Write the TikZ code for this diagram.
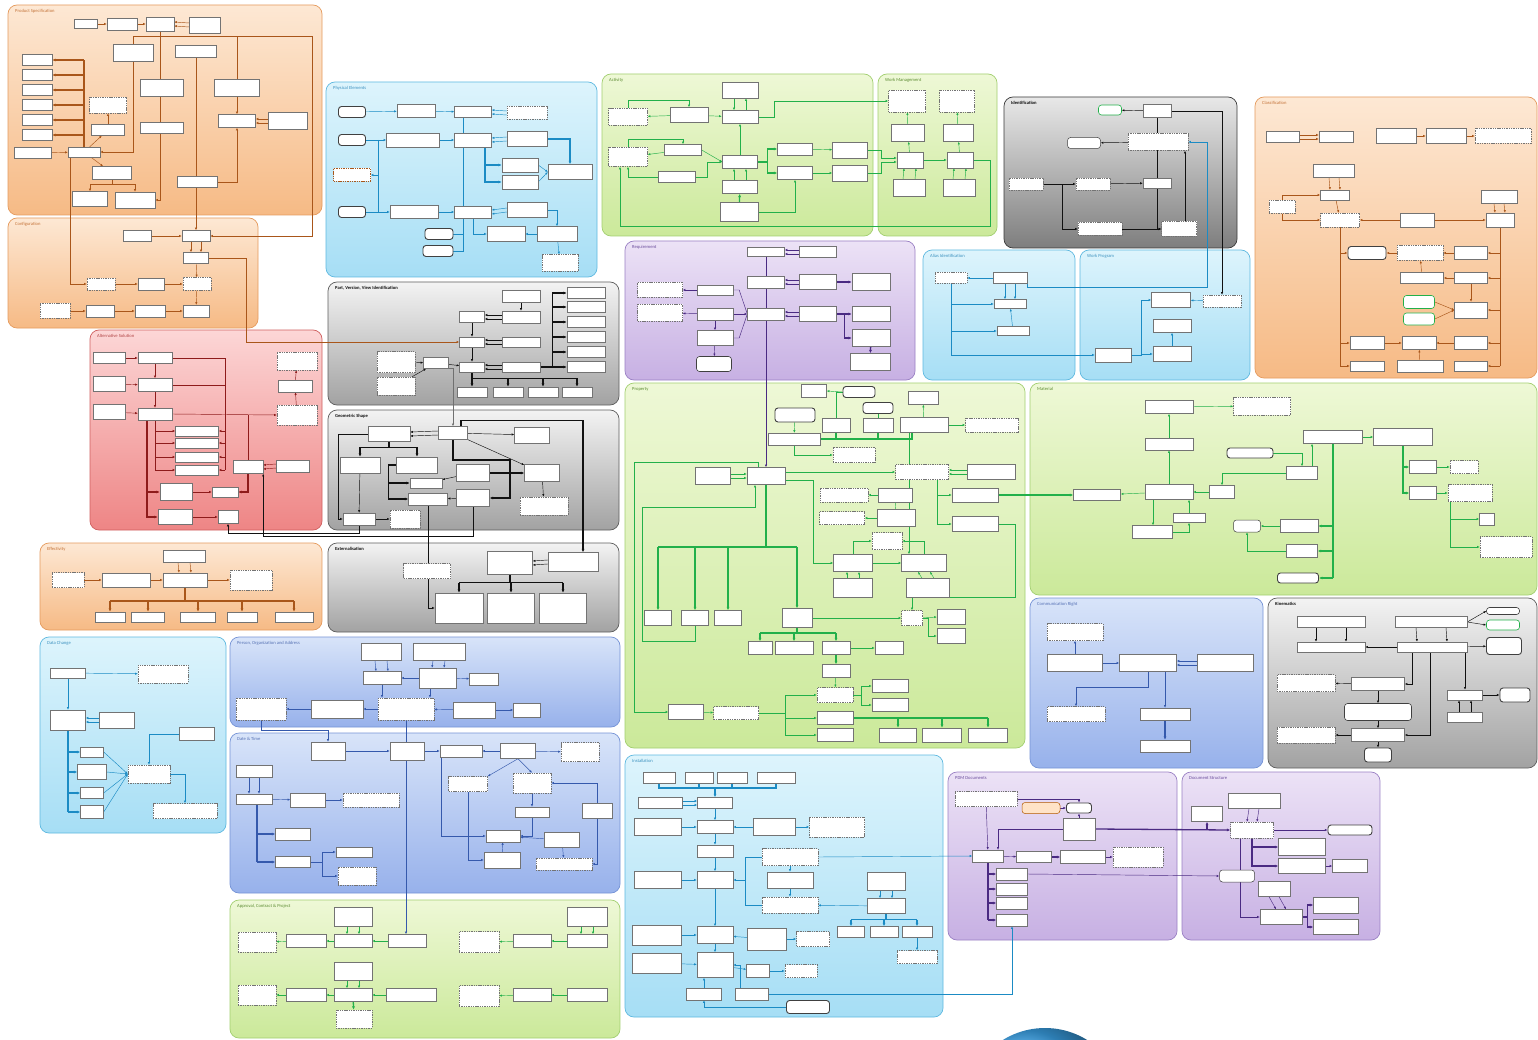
\documentclass[tikz,border=0pt]{standalone}
\usepackage{fontspec}
\setsansfont{Carlito}
\usepackage{tikz}
\usetikzlibrary{arrows.meta,calc,positioning}
\definecolor{orA}{HTML}{FDE8D4}
\definecolor{orB}{HTML}{F6BA85}
\definecolor{orL}{HTML}{E59B5E}
\definecolor{orC}{HTML}{A9561A}
\definecolor{orT}{HTML}{C4743A}
\definecolor{cyA}{HTML}{DDF4FC}
\definecolor{cyB}{HTML}{A6DEF5}
\definecolor{cyL}{HTML}{5FB9E0}
\definecolor{cyC}{HTML}{1B8BC4}
\definecolor{cyT}{HTML}{3F93C0}
\definecolor{grA}{HTML}{EEF8D6}
\definecolor{grB}{HTML}{CBE99A}
\definecolor{grL}{HTML}{A2CF70}
\definecolor{grC}{HTML}{22B04A}
\definecolor{grT}{HTML}{5C8C32}
\definecolor{gyA}{HTML}{F3F3F3}
\definecolor{gyB}{HTML}{A2A2A2}
\definecolor{gyL}{HTML}{5E5E5E}
\definecolor{gyC}{HTML}{111111}
\definecolor{gyT}{HTML}{111111}
\definecolor{gkA}{HTML}{E8E8E8}
\definecolor{gkB}{HTML}{7E7E7E}
\definecolor{gkL}{HTML}{3A3A3A}
\definecolor{gkT}{HTML}{111111}
\definecolor{puA}{HTML}{ECE2F6}
\definecolor{puB}{HTML}{C7B0E3}
\definecolor{puL}{HTML}{9A80C4}
\definecolor{puC}{HTML}{4A2A82}
\definecolor{puT}{HTML}{6A4C9C}
\definecolor{pkA}{HTML}{FCD6D6}
\definecolor{pkB}{HTML}{EE8585}
\definecolor{pkL}{HTML}{D06060}
\definecolor{pkC}{HTML}{8E1B1B}
\definecolor{pkT}{HTML}{B04545}
\definecolor{blA}{HTML}{D8E4F9}
\definecolor{blB}{HTML}{97B1EB}
\definecolor{blL}{HTML}{7593D6}
\definecolor{blC}{HTML}{3559AC}
\definecolor{blT}{HTML}{5873B5}
\pgfdeclarelayer{back}
\pgfdeclarelayer{mid}
\pgfsetlayers{back,mid,main}
\tikzset{
  ent/.style={draw=black!55, line width=0.4pt, fill=white, inner sep=0pt},
  sel/.style={ent, dash pattern=on 1.4pt off 0.9pt},
  pill/.style={ent, rounded corners=3pt, line width=0.9pt, draw=black!75},
  bx/.style 2 args={minimum width=#1pt, minimum height=#2pt},
  cn/.style={draw=#1, line width=0.45pt, -{Latex[length=2.6pt,width=2.2pt]}},
  ln/.style={draw=#1, line width=0.45pt},
  bus/.style={draw=#1, line width=1.3pt},
  bt/.style={bus=#1, -{Latex[length=3.4pt,width=3pt]}},
  ptitle/.style={font=\sffamily\fontsize{4.6}{5}\selectfont, anchor=north west, inner sep=1pt},
  panelbox/.style={rounded corners=9pt, line width=0.7pt}
}
\newcommand{\uofpanel}[7]{%
  \begin{pgfonlayer}{back}
  \path[panelbox, top color=#6A, bottom color=#6B, draw=#6L] (#2,#3) rectangle (#4,#5);
  \node[ptitle, text=#6T] (#1) at (#2+6,#3+3) {#7};
  \end{pgfonlayer}
}

\begin{document}
\begin{tikzpicture}[x=1pt,y=-1pt]
\useasboundingbox (0,0) rectangle (1538,1040);
\begin{pgfonlayer}{back}
\fill[white] (0,0) rectangle (1538,1040);
\end{pgfonlayer}

% product specification
\uofpanel{tps}{8}{5}{322}{215}{or}{Product Specification}
\node[ent, bx={23}{9}] (ps1) at (86,24) {};
\node[ent, bx={30}{12}] (ps2) at (122,24) {};
\node[ent, bx={28}{14}] (ps3) at (160,24) {};
\node[ent, bx={31}{16}] (ps4) at (205,25) {};
\node[ent, bx={40}{17}] (ps5) at (133,53) {};
\node[ent, bx={41}{12}] (ps6) at (196,51) {};
\foreach \i/\y in {7/60,8/75,9/90,10/105,11/120,12/135}
  \node[ent, bx={30}{11}] (ps\i) at (37,\y) {};
\node[sel, bx={37}{16}] (ps13) at (108,105) {};
\node[ent, bx={33}{11}] (ps14) at (108,130) {};
\node[ent, bx={37}{11}] (ps15) at (33,153) {};
\node[ent, bx={32}{10}] (ps16) at (84,152) {};
\node[ent, bx={43}{17}] (ps17) at (162,88) {};
\node[ent, bx={43}{11}] (ps18) at (162,128) {};
\node[ent, bx={45}{17}] (ps19) at (237,88) {};
\node[ent, bx={37}{13}] (ps20) at (237,121) {};
\node[ent, bx={39}{17}] (ps21) at (288,121) {};
\node[ent, bx={39}{13}] (ps22) at (112,173) {};
\node[ent, bx={35}{15}] (ps23) at (90,199) {};
\node[ent, bx={40}{16}] (ps24) at (135,200) {};
\node[ent, bx={40}{11}] (ps25) at (197,182) {};

% configuration
\uofpanel{tcf}{8}{218}{258}{328}{or}{Configuration}
\node[ent, bx={28}{11}] (cf1) at (137,236) {};
\node[ent, bx={28}{11}] (cf2) at (196,236) {};
\node[ent, bx={25}{11}] (cf3) at (196,258) {};
\node[sel, bx={28}{13}] (cf4) at (197,284) {};
\node[ent, bx={26}{12}] (cf5) at (196,311) {};
\node[sel, bx={28}{12}] (cf6) at (101,284) {};
\node[ent, bx={26}{12}] (cf7) at (151,284) {};
\node[sel, bx={30}{15}] (cf8) at (55,311) {};
\node[ent, bx={28}{12}] (cf9) at (100,311) {};
\node[ent, bx={30}{12}] (cf10) at (150,311) {};

\begin{pgfonlayer}{mid}
\coordinate (pstop) at (312,36);
\draw[cn=orC] (ps1) -- (ps2);
\draw[cn=orC] (ps2) -- (ps3);
\draw[cn=orC] ([yshift=2pt]ps4.west) -- ([yshift=2pt]ps3.east);
\draw[cn=orC] ([yshift=-2pt]ps4.west) -- ([yshift=-2pt]ps3.east);
\draw[bus=orC] (ps16.north) -- (ps16.north |- ps7.east);
\foreach \i in {7,...,12}
  \draw[bt=orC] (ps16.north |- ps\i.east) -- (ps\i.east);
\draw[cn=orC] (ps15) -- (ps16);
\draw[cn=orC] (ps16) -- (ps14);
\draw[cn=orC] (ps14) -- (ps13);
\draw[cn=orC] (ps5.south) |- (ps16.east);
\draw[cn=orC] (ps16) -- (ps22);
\draw[cn=orC] (ps22.south) -- ++(0,5) -| (ps23.north);
\draw[cn=orC] (ps22.south) -- ++(0,5) -| (ps24.north);
\draw[cn=orC] (ps3.south) |- (ps24.east);
\draw[cn=orC] (ps5.north) |- (pstop) |- (cf2.east);
\draw[ln=orC] (ps19.north) -- (ps19.north |- pstop);
\draw[cn=orC] (ps6) -- (cf2);
\draw[cn=orC] (ps19) -- (ps20);
\draw[cn=orC] (ps25.east) -| (ps20.south);
\draw[cn=orC] ([yshift=2pt]ps21.west) -- ([yshift=2pt]ps20.east);
\draw[cn=orC] ([yshift=-2pt]ps21.west) -- ([yshift=-2pt]ps20.east);
\draw[cn=orC] ([xshift=-14pt]ps16.south) |- (cf6.west);
\draw[cn=orC] (cf1) -- (cf2);
\draw[cn=orC] ([xshift=-5pt]cf2.south) -- ([xshift=-5pt]cf3.north);
\draw[cn=orC] ([xshift=5pt]cf2.south) -- ([xshift=5pt]cf3.north);
\draw[cn=orC] (cf3) -- (cf4);
\draw[cn=orC] (cf4) -- (cf5);
\draw[cn=orC] (cf6) -- (cf7);
\draw[cn=orC] (cf7) -- (cf4);
\draw[cn=orC] (cf8) -- (cf9);
\draw[cn=orC] (cf9) -- (cf10);
\draw[cn=orC] (cf10) -- (cf5);
\end{pgfonlayer}

% physical elements
\uofpanel{tph}{326}{82}{597}{277}{cy}{Physical Elements}
\node[pill, bx={27}{11}] (ph1) at (352,112) {};
\node[pill, bx={27}{11}] (ph2) at (352,140) {};
\node[sel, draw=orC, bx={37}{13}] (ph3) at (352,175) {};
\node[pill, bx={27}{11}] (ph4) at (352,212) {};
\node[pill, bx={28}{11}] (ph5) at (439,234) {};
\node[pill, bx={30}{11}] (ph6) at (438,251) {};
\node[ent, bx={38}{13}] (ph7) at (416,111) {};
\node[ent, bx={53}{14}] (ph8) at (413,140) {};
\node[ent, bx={48}{13}] (ph9) at (414,212) {};
\node[ent, bx={37}{11}] (ph10) at (473,112) {};
\node[ent, bx={37}{14}] (ph11) at (473,140) {};
\node[ent, bx={37}{12}] (ph12) at (473,212) {};
\node[sel, bx={40}{13}] (ph13) at (527,113) {};
\node[ent, bx={40}{15}] (ph14) at (527,139) {};
\node[ent, bx={36}{14}] (ph15) at (520,165) {};
\node[ent, bx={36}{14}] (ph16) at (520,182) {};
\node[ent, bx={44}{15}] (ph17) at (570,172) {};
\node[ent, bx={40}{15}] (ph18) at (527,210) {};
\node[ent, bx={38}{15}] (ph19) at (506,234) {};
\node[ent, bx={40}{15}] (ph20) at (557,234) {};
\node[sel, bx={36}{17}] (ph21) at (560,263) {};

\begin{pgfonlayer}{mid}
\coordinate (pha) at (378,140);
\coordinate (phb) at (378,212);
\draw[cn=cyC] (ph1) -- (ph7);
\draw[cn=cyC] (ph7) -- (ph10);
\draw[cn=cyC] ([yshift=2pt]ph13.west) -- ([yshift=2pt]ph10.east);
\draw[cn=cyC] ([yshift=-2pt]ph13.west) -- ([yshift=-2pt]ph10.east);
\draw[cn=cyC] (ph2) -- (ph8);
\draw[cn=cyC] (ph8) -- (ph11);
\draw[cn=cyC] ([yshift=2pt]ph14.west) -- ([yshift=2pt]ph11.east);
\draw[cn=cyC] ([yshift=-2pt]ph14.west) -- ([yshift=-2pt]ph11.east);
\draw[cn=cyC] (ph4) -- (ph9);
\draw[cn=cyC] (ph9) -- (ph12);
\draw[cn=cyC] ([yshift=2pt]ph18.west) -- ([yshift=2pt]ph12.east);
\draw[cn=cyC] ([yshift=-2pt]ph18.west) -- ([yshift=-2pt]ph12.east);
\draw[ln=cyC] (pha) -- (phb);
\draw[cn=cyC] (pha |- ph3.east) -- (ph3.east);
\draw[ln=cyC] ([xshift=-10pt]ph10.south) -- ([xshift=-10pt]ph12.north);
\draw[ln=cyC] (ph5.east) -| ([xshift=-10pt]ph12.south);
\draw[ln=cyC] (ph6.east) -| ([xshift=-10pt]ph12.south);
\draw[bt=cyC] ([xshift=12pt]ph11.south) |- (ph15.west);
\draw[bt=cyC] ([xshift=12pt]ph11.south) |- (ph16.west);
\draw[bt=cyC] (ph14.east) -| (ph17.north);
\draw[cn=cyC] (ph15.east) -- (ph17.west);
\draw[cn=cyC] (ph16.east) -- (ph17.west);
\draw[cn=cyC] (ph12.south) |- (ph19.west);
\draw[cn=cyC] (ph20) -- (ph19);
\draw[cn=cyC] (ph18.east) -| (ph20.north);
\draw[cn=cyC] (ph20) -- (ph21);
\end{pgfonlayer}

% activity and work management
\uofpanel{tac}{602}{74}{873}{236}{gr}{Activity}
\uofpanel{twm}{878}{74}{997}{236}{gr}{Work Management}
\node[sel, bx={39}{17}] (ac1) at (628,117) {};
\node[ent, bx={38}{15}] (ac2) at (689,115) {};
\node[ent, bx={36}{16}] (ac3) at (740,90) {};
\node[ent, bx={36}{13}] (ac4) at (740,117) {};
\node[sel, bx={39}{19}] (ac5) at (628,157) {};
\node[ent, bx={37}{11}] (ac6) at (683,150) {};
\node[ent, bx={37}{11}] (ac7) at (677,177) {};
\node[ent, bx={35}{13}] (ac8) at (740,162) {};
\node[ent, bx={35}{13}] (ac9) at (740,187) {};
\node[ent, bx={38}{19}] (ac10) at (739,212) {};
\node[ent, bx={35}{12}] (ac11) at (795,149) {};
\node[ent, bx={35}{13}] (ac12) at (795,173) {};
\node[ent, bx={35}{16}] (ac13) at (850,150) {};
\node[ent, bx={35}{16}] (ac14) at (850,173) {};
\node[sel, bx={37}{22}] (wm1) at (907,101) {};
\node[sel, bx={35}{22}] (wm2) at (957,101) {};
\node[ent, bx={33}{17}] (wm3) at (908,133) {};
\node[ent, bx={30}{17}] (wm4) at (958,133) {};
\node[ent, bx={26}{16}] (wm5) at (910,160) {};
\node[ent, bx={26}{16}] (wm6) at (960,160) {};
\node[ent, bx={32}{17}] (wm7) at (909,188) {};
\node[ent, bx={32}{17}] (wm8) at (959,188) {};

\begin{pgfonlayer}{mid}
\coordinate (acl) at (990,226);
\draw[cn=grC] (ac2) -- (ac1);
\draw[cn=grC] (ac1.north) -- ++(0,-8) -| (ac2.north);
\draw[cn=grC] (ac2) -- (ac4);
\draw[cn=grC] ([xshift=-6pt]ac3.south) -- ([xshift=-6pt]ac4.north);
\draw[cn=grC] ([xshift=6pt]ac4.north) -- ([xshift=6pt]ac3.south);
\draw[cn=grC] (ac6) -- (ac5);
\draw[cn=grC] (ac5.north) -- ++(0,-8) -| (ac6.north);
\draw[cn=grC] (ac7.west) -| (ac5.south);
\draw[cn=grC] (ac6.east) -- (ac8.west);
\draw[cn=grC] (ac7.east) -- ++(12,0) |- (ac8.west);
\draw[cn=grC] (ac8) -- (ac4);
\draw[cn=grC] ([xshift=-6pt]ac9.north) -- ([xshift=-6pt]ac8.south);
\draw[cn=grC] ([xshift=6pt]ac9.north) -- ([xshift=6pt]ac8.south);
\draw[bt=grC] (ac10) -- (ac9);
\draw[bt=grC] (ac8.east) -- ++(10,0) |- (ac11.west);
\draw[bt=grC] (ac8.east) -- ++(10,0) |- (ac12.west);
\draw[cn=grC] (ac11) -- (ac13);
\draw[cn=grC] (ac12) -- (ac14);
\draw[cn=grC] (ac10.east) -| (ac12.south);
\draw[cn=grC] (ac13.east) -- ++(14,0) |- ([yshift=2pt]wm5.west);
\draw[cn=grC] (ac14.east) -- ++(14,0) |- ([yshift=-2pt]wm5.west);
\draw[cn=grC] (ac4.east) -- ++(16,0) |- (wm1.west);
\draw[cn=grC] (wm5) -- (wm6);
\draw[cn=grC] (wm5) -- (wm3);
\draw[cn=grC] (wm6) -- (wm4);
\draw[cn=grC] (wm3) -- (wm1);
\draw[cn=grC] (wm4) -- (wm2);
\draw[cn=grC] ([xshift=-6pt]wm7.north) -- ([xshift=-6pt]wm5.south);
\draw[cn=grC] ([xshift=6pt]wm7.north) -- ([xshift=6pt]wm5.south);
\draw[cn=grC] ([xshift=-6pt]wm8.north) -- ([xshift=-6pt]wm6.south);
\draw[cn=grC] ([xshift=6pt]wm8.north) -- ([xshift=6pt]wm6.south);
\draw[cn=grC] (wm6.east) -| (acl) -| ([xshift=-8pt]ac5.south);
\end{pgfonlayer}

% identification
\uofpanel{tid}{1004}{97}{1237}{248}{gk}{\textbf{Identification}}
\node[pill, draw=grC, line width=0.6pt, bx={23}{10}] (id1) at (1110,110) {};
\node[ent, bx={28}{13}] (id2) at (1157,111) {};
\node[pill, line width=0.5pt, bx={33}{11}] (id3) at (1084,143) {};
\node[sel, bx={60}{17}] (id4) at (1158,142) {};
\node[sel, bx={34}{12}] (id5) at (1026,184) {};
\node[sel, bx={34}{12}] (id6) at (1093,184) {};
\node[ent, bx={28}{10}] (id7) at (1157,183) {};
\node[sel, bx={44}{13}] (id8) at (1100,229) {};
\node[sel, bx={35}{15}] (id9) at (1179,229) {};

% classification
\uofpanel{tcl}{1255}{97}{1537}{378}{or}{Classification}
\node[ent, bx={33}{11}] (cl1) at (1283,137) {};
\node[ent, bx={34}{11}] (cl2) at (1336,137) {};
\node[ent, bx={40}{15}] (cl3) at (1396,136) {};
\node[ent, bx={40}{15}] (cl4) at (1446,136) {};
\node[sel, bx={56}{15}] (cl5) at (1503,136) {};
\node[ent, bx={41}{13}] (cl6) at (1334,171) {};
\node[ent, bx={29}{10}] (cl7) at (1335,195) {};
\node[sel, bx={26}{13}] (cl8) at (1282,207) {};
\node[sel, bx={39}{14}] (cl9) at (1340,220) {};
\node[ent, bx={34}{14}] (cl10) at (1417,220) {};
\node[ent, bx={36}{13}] (cl11) at (1499,197) {};
\node[ent, bx={28}{14}] (cl12) at (1500,220) {};
\node[pill, bx={38}{13}] (cl13) at (1367,253) {};
\node[sel, bx={46}{15}] (cl14) at (1420,253) {};
\node[ent, bx={33}{13}] (cl15) at (1471,253) {};
\node[ent, bx={43}{11}] (cl16) at (1422,278) {};
\node[ent, bx={33}{11}] (cl17) at (1471,278) {};
\node[pill, draw=grC, line width=0.6pt, bx={31}{13}] (cl18) at (1419,302) {};
\node[pill, draw=grC, line width=0.6pt, bx={31}{12}] (cl19) at (1419,319) {};
\node[ent, bx={33}{16}] (cl20) at (1471,310) {};
\node[ent, bx={34}{13}] (cl21) at (1367,343) {};
\node[ent, bx={34}{13}] (cl22) at (1419,343) {};
\node[ent, bx={33}{13}] (cl23) at (1471,343) {};
\node[ent, bx={34}{10}] (cl24) at (1367,366) {};
\node[ent, bx={46}{12}] (cl25) at (1420,366) {};
\node[ent, bx={33}{10}] (cl26) at (1471,366) {};

\begin{pgfonlayer}{mid}
\coordinate (idx) at (1207,287);
\draw[cn=gyC] (id2) -- (id1);
\draw[cn=gyC] (id4) -- (id3);
\draw[cn=gyC] (id5) -- (id6);
\draw[cn=gyC] (id6) -- (id7);
\draw[ln=gyC] (id2) -- (id7);
\draw[cn=gyC] (id7.south) |- (id9.west);
\draw[cn=gyC] (id5.east) -- ++(19,0) |- (id8.west);
\draw[cn=gyC] (id8) -- (id9);
\draw[cn=gyC] ([xshift=6pt]id9.north) -- ([xshift=6pt]id9.north |- id4.south);
\draw[cn=orC] ([yshift=2pt]cl1.east) -- ([yshift=2pt]cl2.west);
\draw[cn=orC] ([yshift=-2pt]cl1.east) -- ([yshift=-2pt]cl2.west);
\draw[cn=orC] (cl3) -- (cl4);
\draw[cn=orC] (cl4) -- (cl5);
\draw[cn=orC] ([xshift=-5pt]cl6.south) -- ([xshift=-5pt]cl7.north);
\draw[cn=orC] ([xshift=5pt]cl6.south) -- ([xshift=5pt]cl7.north);
\draw[cn=orC] (cl8.north) |- (cl7.west);
\draw[cn=orC] (cl8.south) |- (cl9.west);
\draw[cn=orC] (cl7) -- (cl9);
\draw[cn=orC] (cl10) -- (cl9);
\draw[cn=orC] (cl10) -- (cl12);
\draw[cn=orC] ([xshift=-5pt]cl11.south) -- ([xshift=-5pt]cl12.north);
\draw[cn=orC] ([xshift=5pt]cl11.south) -- ([xshift=5pt]cl12.north);
\draw[ln=orC] (cl9.south) -- (cl9.south |- cl24.west);
\foreach \n in {13,21,24}
  \draw[cn=orC] (cl9.south |- cl\n.west) -- (cl\n.west);
\draw[ln=orC] (cl12.south) -- (cl12.south |- cl26.east);
\foreach \n in {15,17,20,23,26}
  \draw[cn=orC] (cl12.south |- cl\n.east) -- (cl\n.east);
\draw[cn=orC] (cl15) -- (cl14);
\draw[cn=orC] (cl14) -- (cl13);
\draw[cn=orC] (cl16) -- (cl14);
\draw[cn=orC] (cl17) -- (cl16);
\draw[cn=orC] (cl17) -- (cl20);
\draw[cn=orC] (cl18.east) -- (cl20.west);
\draw[cn=orC] (cl19.east) -- (cl20.west);
\draw[cn=orC] (cl21) -- (cl22);
\draw[cn=orC] (cl23) -- (cl22);
\draw[cn=orC] (cl25) -- (cl22);
\end{pgfonlayer}

% requirement
\uofpanel{trq}{625}{241}{915}{380}{pu}{Requirement}
\node[sel, bx={45}{15}] (rq1) at (660,290) {};
\node[sel, bx={45}{17}] (rq2) at (660,313) {};
\node[ent, bx={36}{10}] (rq3) at (715,290) {};
\node[ent, bx={36}{12}] (rq4) at (715,314) {};
\node[ent, bx={36}{15}] (rq5) at (715,338) {};
\node[pill, line width=0.6pt, bx={35}{15}] (rq6) at (714,364) {};
\node[ent, bx={37}{9}] (rq7) at (766,252) {};
\node[ent, bx={37}{11}] (rq8) at (818,252) {};
\node[ent, bx={37}{12}] (rq9) at (766,282) {};
\node[ent, bx={37}{15}] (rq10) at (818,282) {};
\node[ent, bx={38}{17}] (rq11) at (871,282) {};
\node[ent, bx={37}{12}] (rq12) at (766,314) {};
\node[ent, bx={37}{15}] (rq13) at (818,314) {};
\node[ent, bx={38}{15}] (rq14) at (871,314) {};
\node[ent, bx={38}{17}] (rq15) at (871,338) {};
\node[ent, bx={40}{17}] (rq16) at (870,362) {};

% alias identification and work program
\uofpanel{tal}{923}{250}{1075}{380}{cy}{Alias Identification}
\uofpanel{twp}{1080}{250}{1250}{380}{cy}{Work Program}
\node[sel, bx={32}{11}] (al1) at (951,278) {};
\node[ent, bx={34}{11}] (al2) at (1010,278) {};
\node[ent, bx={32}{9}] (al3) at (1010,304) {};
\node[ent, bx={32}{9}] (al4) at (1013,331) {};
\node[ent, bx={39}{15}] (wp1) at (1171,300) {};
\node[ent, bx={38}{13}] (wp2) at (1172,326) {};
\node[ent, bx={38}{15}] (wp3) at (1172,354) {};
\node[sel, bx={38}{12}] (wp4) at (1222,301) {};
\node[ent, bx={36}{14}] (wp5) at (1113,355) {};

\begin{pgfonlayer}{mid}
\draw[cn=puC] (rq3) -- (rq1);
\draw[cn=puC] (rq4) -- (rq2);
\draw[ln=puC] (rq3.east) -- ++(6,0) -- (rq12.west);
\draw[cn=puC] (rq4) -- (rq12);
\draw[ln=puC] (rq5.east) -- ++(6,0) -- (rq12.west);
\draw[cn=puC] (rq4) -- (rq5);
\draw[cn=puC] (rq5) -- (rq6);
\draw[cn=puC] ([yshift=2pt]rq8.west) -- ([yshift=2pt]rq7.east);
\draw[cn=puC] ([yshift=-2pt]rq8.west) -- ([yshift=-2pt]rq7.east);
\draw[cn=puC] ([yshift=2pt]rq10.west) -- ([yshift=2pt]rq9.east);
\draw[cn=puC] ([yshift=-2pt]rq10.west) -- ([yshift=-2pt]rq9.east);
\draw[cn=puC] ([yshift=2pt]rq13.west) -- ([yshift=2pt]rq12.east);
\draw[cn=puC] ([yshift=-2pt]rq13.west) -- ([yshift=-2pt]rq12.east);
\draw[bt=puC] (rq10) -- (rq11);
\draw[bt=puC] (rq13) -- (rq14);
\draw[bt=puC] (rq13.east) -- ++(8,0) |- (rq15.west);
\draw[bt=puC] (rq15) -- (rq16);
\draw[cn=cyC] (al2) -- (al1);
\draw[cn=cyC] ([xshift=-5pt]al2.south) -- ([xshift=-5pt]al3.north);
\draw[cn=cyC] ([xshift=5pt]al2.south) -- ([xshift=5pt]al3.north);
\draw[cn=cyC] (al4) -- (al3);
\draw[cn=cyC] (al1.south) |- (wp5.west);
\draw[cn=cyC] (al1.south |- al3.west) -- (al3.west);
\draw[cn=cyC] (al1.south |- al4.west) -- (al4.west);
\draw[cn=cyC] (wp5.east) -- ++(10,0) |- (wp1.west);
\draw[cn=cyC] (wp5.east) -- ++(10,0) |- (wp3.west);
\draw[cn=cyC] (wp3) -- (wp2);
\draw[cn=cyC] (wp4) -- (wp1);
\draw[cn=gyC] (id2.east) -| (wp4.north);
\draw[cn=cyC] (al2.south east) |- (idx) |- (id4.east);
\end{pgfonlayer}

% part, version, view identification
\uofpanel{tpv}{328}{282}{619}{405}{gy}{\textbf{Part, Version, View Identification}}
\node[ent, bx={38}{12}] (pv1) at (521,296) {};
\node[ent, bx={38}{12}] (pv2) at (521,317) {};
\node[ent, bx={25}{11}] (pv3) at (472,317) {};
\node[ent, bx={25}{10}] (pv4) at (472,342) {};
\node[ent, bx={38}{10}] (pv5) at (521,342) {};
\node[ent, bx={25}{10}] (pv6) at (472,367) {};
\node[ent, bx={38}{10}] (pv7) at (521,367) {};
\node[ent, bx={25}{11}] (pv8) at (436,363) {};
\node[sel, line width=0.7pt, bx={38}{21}] (pv9) at (396,362) {};
\node[sel, line width=0.7pt, bx={38}{18}] (pv10) at (396,386) {};
\foreach \i/\y in {11/293,12/307,13/322,14/337,15/352,16/367}
  \node[ent, bx={38}{11}] (pv\i) at (586,\y) {};
\foreach \i/\x/\w in {17/472/30,18/508/30,19/543/30,20/577/30}
  \node[ent, bx={\w}{10}] (pv\i) at (\x,392) {};

% geometric shape
\uofpanel{tgs}{328}{410}{619}{530}{gy}{\textbf{Geometric Shape}}
\node[ent, bx={42}{15}] (gs1) at (389,434) {};
\node[ent, bx={29}{13}] (gs2) at (453,433) {};
\node[ent, bx={35}{16}] (gs3) at (532,435) {};
\node[ent, bx={40}{16}] (gs4) at (360,465) {};
\node[ent, bx={41}{16}] (gs5) at (417,465) {};
\node[ent, bx={32}{10}] (gs6) at (426,483) {};
\node[ent, bx={39}{12}] (gs7) at (428,499) {};
\node[ent, bx={33}{17}] (gs8) at (473,473) {};
\node[ent, bx={33}{17}] (gs9) at (473,498) {};
\node[ent, bx={35}{17}] (gs10) at (542,473) {};
\node[sel, line width=0.7pt, bx={48}{18}] (gs11) at (544,506) {};
\node[ent, bx={32}{12}] (gs12) at (359,519) {};
\node[sel, line width=0.7pt, bx={30}{18}] (gs13) at (405,519) {};

% externalisation
\uofpanel{tex}{328}{543}{619}{632}{gy}{\textbf{Externalisation}}
\node[ent, bx={45}{23}] (ex1) at (510,563) {};
\node[ent, bx={50}{19}] (ex2) at (573,562) {};
\node[sel, line width=0.7pt, bx={47}{15}] (ex3) at (427,571) {};
\node[ent, bx={48}{30}] (ex4) at (459,608) {};
\node[ent, bx={47}{30}] (ex5) at (511,608) {};
\node[ent, bx={47}{30}] (ex6) at (563,608) {};

% alternative solution
\uofpanel{tas}{90}{330}{322}{530}{pk}{Alternative Solution}
\node[ent, bx={32}{11}] (as1) at (109,358) {};
\node[ent, bx={34}{11}] (as2) at (155,358) {};
\node[ent, bx={32}{15}] (as3) at (109,384) {};
\node[ent, bx={34}{13}] (as4) at (155,385) {};
\node[ent, bx={32}{15}] (as5) at (109,412) {};
\node[ent, bx={34}{12}] (as6) at (155,414) {};
\node[sel, bx={40}{18}] (as7) at (297,361) {};
\node[ent, bx={34}{12}] (as8) at (295,386) {};
\node[sel, bx={40}{20}] (as9) at (297,415) {};
\foreach \i/\y in {10/431,11/443,12/457,13/470}
  \node[ent, bx={43}{10}] (as\i) at (197,\y) {};
\node[ent, bx={30}{13}] (as14) at (248,467) {};
\node[ent, bx={33}{12}] (as15) at (293,466) {};
\node[ent, bx={32}{17}] (as16) at (176,492) {};
\node[ent, bx={26}{10}] (as17) at (225,492) {};
\node[ent, bx={34}{15}] (as18) at (175,517) {};
\node[ent, bx={20}{13}] (as19) at (228,517) {};

% effectivity
\uofpanel{tef}{40}{543}{322}{630}{or}{Effectivity}
\node[ent, bx={42}{12}] (ef1) at (184,556) {};
\node[ent, bx={44}{14}] (ef2) at (185,580) {};
\node[ent, bx={48}{14}] (ef3) at (126,580) {};
\node[sel, bx={32}{15}] (ef4) at (68,580) {};
\node[sel, bx={42}{20}] (ef5) at (251,580) {};
\foreach \i/\x/\w in {6/110/30,7/148/33,8/198/35,9/242/30,10/294/38}
  \node[ent, bx={\w}{10}] (ef\i) at (\x,617) {};

\begin{pgfonlayer}{mid}
\draw[cn=orC] (cf3.east) -- ++(38,0) |- (pv4.west);
\draw[cn=gyC] (pv1) -- (pv2);
\draw[cn=gyC] ([yshift=2pt]pv2.west) -- ([yshift=2pt]pv3.east);
\draw[cn=gyC] ([yshift=-2pt]pv2.west) -- ([yshift=-2pt]pv3.east);
\draw[cn=gyC] (pv3) -- (pv4);
\draw[cn=gyC] (pv4) -- (pv6);
\draw[cn=gyC] ([yshift=2pt]pv5.west) -- ([yshift=2pt]pv4.east);
\draw[cn=gyC] ([yshift=-2pt]pv5.west) -- ([yshift=-2pt]pv4.east);
\draw[cn=gyC] ([yshift=2pt]pv7.west) -- ([yshift=2pt]pv6.east);
\draw[cn=gyC] ([yshift=-2pt]pv7.west) -- ([yshift=-2pt]pv6.east);
\draw[cn=gyC] (pv8) -- (pv6);
\draw[cn=gyC] (pv9) -- (pv8);
\draw[cn=gyC] (pv10) -- (pv8);
\draw[bus=gyC] (pv7.east) -- ++(12,0) coordinate (pvb) -- (pvb |- pv11.west);
\foreach \i in {11,...,16}
  \draw[bt=gyC] (pvb |- pv\i.west) -- (pv\i.west);
\path (pv6.south) ++(0,6) coordinate (pvr);
\draw[bus=gyC] (pv6.south) -- (pvr);
\draw[bus=gyC] (pvr -| pv17.north) -- (pvr -| pv20.north);
\foreach \i in {17,...,20}
  \draw[bt=gyC] (pvr -| pv\i.north) -- (pv\i.north);
\draw[cn=gyC!60] (pv8.south east) -| (gs2.north);
\coordinate (gsa) at (510,460);
\draw[cn=gyC] ([yshift=2pt]gs2.west) -- ([yshift=2pt]gs1.east);
\draw[cn=gyC] ([yshift=-2pt]gs2.west) -- ([yshift=-2pt]gs1.east);
\draw[cn=gyC] (gs2) -- (gs3);
\draw[bt=gyC] (gs1.south) -- ++(0,6) -| (gs4.north);
\draw[bt=gyC] (gs1.south) -- ++(0,6) -| (gs5.north);
\draw[bt=gyC] (gs2.south) |- (gsa) |- (gs9.east);
\draw[bt=gyC] (gs8) -- (gs10);
\draw[bt=gyC] ([xshift=8pt]gs2.north) -- ++(0,-6) -| ([xshift=10pt]ex2.north);
\draw[bt=gyC] (gs5.west) -- ++(-8,0) coordinate (gsb) |- (gs7.west);
\draw[bt=gyC] (gsb) |- (gs6.west);
\draw[cn=gyC] (gs2) -- (gs10);
\draw[cn=gyC] (gs8) -- (gs6);
\draw[cn=gyC] (gs9) -- (gs7);
\draw[cn=gyC] (gs1.west) -- ++(-30,0) |- (gs12.west);
\draw[cn=gyC] (gs4) -- (gs12);
\draw[cn=gyC] (gs12) -- (gs13);
\draw[cn=gyC] (gs10) -- (gs11);
\draw[cn=gyC] (gs12.south) -- ++(0,8) -| (as19.south);
\draw[cn=gyC] (gs9.south) -- ++(0,30) -| (as14.south east);
\draw[cn=gyC] (gs7.south) |- (ex4.west);
\draw[cn=gyC] ([yshift=2pt]ex2.west) -- ([yshift=2pt]ex1.east);
\draw[cn=gyC] ([yshift=-2pt]ex2.west) -- ([yshift=-2pt]ex1.east);
\path (ex1.south) ++(0,8) coordinate (exb);
\draw[bus=gyC] (ex1.south) -- (exb);
\draw[bus=gyC] (exb -| ex4.north) -- (exb -| ex6.north);
\foreach \i in {4,5,6}
  \draw[bt=gyC] (exb -| ex\i.north) -- (ex\i.north);
\coordinate (asv) at (225,414);
\draw[cn=pkC] (as1) -- (as2);
\draw[cn=pkC] (as3) -- (as4);
\draw[cn=pkC] (as5) -- (as6);
\draw[cn=pkC] (as2) -- (as4);
\draw[cn=pkC] (as4) -- (as6);
\draw[ln=pkC] (as2.east) -| (asv);
\draw[ln=pkC] (as4.east) -| (asv);
\draw[cn=pkC] (as6.east) -- (as9.west);
\draw[cn=pkC] (as9) -- (as8);
\draw[cn=pkC] (as8) -- (as7);
\draw[ln=pkC] (asv) -- (asv |- as13.east);
\foreach \i in {10,...,13}
  \draw[cn=pkC] (asv |- as\i.east) -- (as\i.east);
\draw[ln=pkC] (as6.south) -- (as6.south |- as13.west);
\foreach \i in {10,...,13}
  \draw[cn=pkC] (as6.south |- as\i.west) -- (as\i.west);
\draw[bt=pkC] ([xshift=-8pt]as6.south) |- (as18.west);
\draw[bt=pkC] ([xshift=-8pt]as6.south) |- (as16.west);
\draw[cn=pkC] (as16) -- (as17);
\draw[cn=pkC] (as18) -- (as19);
\draw[bt=pkC] (as14.south) |- (as17.east);
\draw[cn=pkC] ([yshift=2pt]as15.west) -- ([yshift=2pt]as14.east);
\draw[cn=pkC] ([yshift=-2pt]as15.west) -- ([yshift=-2pt]as14.east);
\draw[ln=pkC] (as14.north) -- (as14.north |- as9.west);
\coordinate (efb) at (185,601);
\draw[cn=orC] ([xshift=-6pt]ef1.south) -- ([xshift=-6pt]ef2.north);
\draw[cn=orC] ([xshift=6pt]ef1.south) -- ([xshift=6pt]ef2.north);
\draw[cn=orC] (ef4) -- (ef3);
\draw[cn=orC] (ef3) -- (ef2);
\draw[cn=orC] (ef2) -- (ef5);
\draw[bus=orC] (ef2.south) -- (efb);
\draw[bus=orC] (efb -| ef6.north) -- (efb -| ef10.north);
\foreach \i in {6,...,10}
  \draw[bt=orC] (efb -| ef\i.north) -- (ef\i.north);
\end{pgfonlayer}

% property
\uofpanel{tpr}{625}{383}{1025}{748}{gr}{Property}
\node[ent, bx={25}{13}] (pr1) at (814,391) {};
\node[pill, bx={32}{11}] (pr2) at (859,392) {};
\node[pill, bx={30}{11}] (pr3) at (878,408) {};
\node[ent, bx={30}{13}] (pr4) at (923,398) {};
\node[pill, bx={40}{14}] (pr5) at (795,415) {};
\node[ent, bx={28}{14}] (pr6) at (836,425) {};
\node[ent, bx={30}{14}] (pr7) at (878,425) {};
\node[ent, bx={48}{15}] (pr8) at (924,425) {};
\node[sel, bx={53}{14}] (pr9) at (992,425) {};
\node[ent, bx={52}{12}] (pr10) at (794,439) {};
\node[sel, bx={42}{15}] (pr11) at (854,455) {};
\node[ent, bx={35}{17}] (pr12) at (713,476) {};
\node[ent, bx={38}{17}] (pr13) at (766,476) {};
\node[sel, bx={53}{15}] (pr14) at (922,472) {};
\node[ent, bx={48}{15}] (pr15) at (991,472) {};
\node[sel, bx={48}{14}] (pr16) at (844,495) {};
\node[ent, bx={34}{14}] (pr17) at (895,495) {};
\node[ent, bx={46}{14}] (pr18) at (975,495) {};
\node[sel, bx={45}{13}] (pr19) at (842,518) {};
\node[ent, bx={38}{17}] (pr20) at (896,518) {};
\node[ent, bx={46}{15}] (pr21) at (975,524) {};
\node[sel, bx={30}{17}] (pr22) at (887,541) {};
\node[ent, bx={39}{17}] (pr23) at (853,563) {};
\node[ent, bx={45}{17}] (pr24) at (924,563) {};
\node[ent, bx={39}{19}] (pr25) at (853,588) {};
\node[ent, bx={43}{19}] (pr26) at (928,588) {};
\foreach \i/\x in {27/658,28/695,29/728}
  \node[ent, bx={27}{15}] (pr\i) at (\x,618) {};
\node[ent, bx={30}{19}] (pr30) at (797,618) {};
\node[sel, bx={21}{15}] (pr31) at (912,618) {};
\node[ent, bx={28}{15}] (pr32) at (951,617) {};
\node[ent, bx={28}{15}] (pr33) at (951,636) {};
\node[ent, bx={24}{13}] (pr34) at (760,648) {};
\node[ent, bx={38}{13}] (pr35) at (794,648) {};
\node[ent, bx={28}{13}] (pr36) at (836,648) {};
\node[ent, bx={28}{13}] (pr37) at (889,648) {};
\node[ent, bx={28}{13}] (pr38) at (836,671) {};
\node[sel, bx={36}{15}] (pr39) at (835,695) {};
\node[ent, bx={36}{13}] (pr40) at (890,686) {};
\node[ent, bx={36}{13}] (pr41) at (890,705) {};
\node[ent, bx={35}{15}] (pr42) at (686,712) {};
\node[sel, bx={45}{13}] (pr43) at (736,713) {};
\node[ent, bx={36}{13}] (pr44) at (835,718) {};
\node[ent, bx={36}{13}] (pr45) at (835,735) {};
\node[ent, bx={37}{14}] (pr46) at (898,735) {};
\node[ent, bx={39}{14}] (pr47) at (942,735) {};
\node[ent, bx={39}{14}] (pr48) at (988,735) {};

% material
\uofpanel{tma}{1030}{383}{1537}{595}{gr}{Material}
\node[ent, bx={48}{13}] (ma1) at (1169,407) {};
\node[sel, bx={57}{18}] (ma2) at (1262,406) {};
\node[ent, bx={48}{12}] (ma3) at (1169,444) {};
\node[ent, bx={59}{13}] (ma4) at (1333,437) {};
\node[ent, bx={59}{17}] (ma5) at (1403,437) {};
\node[pill, bx={46}{10}] (ma6) at (1250,453) {};
\node[ent, bx={31}{13}] (ma7) at (1302,473) {};
\node[ent, bx={47}{11}] (ma8) at (1097,495) {};
\node[ent, bx={48}{15}] (ma9) at (1169,492) {};
\node[ent, bx={25}{13}] (ma10) at (1222,492) {};
\node[ent, bx={32}{9}] (ma11) at (1189,518) {};
\node[ent, bx={40}{13}] (ma12) at (1152,532) {};
\node[pill, line width=0.5pt, bx={27}{12}] (ma13) at (1247,526) {};
\node[ent, bx={38}{13}] (ma14) at (1299,526) {};
\node[ent, bx={31}{13}] (ma15) at (1302,551) {};
\node[pill, bx={41}{10}] (ma16) at (1298,578) {};
\node[ent, bx={27}{13}] (ma17) at (1423,467) {};
\node[sel, bx={28}{13}] (ma18) at (1464,467) {};
\node[ent, bx={27}{13}] (ma19) at (1423,493) {};
\node[sel, bx={44}{17}] (ma20) at (1470,493) {};
\node[ent, bx={15}{12}] (ma21) at (1487,519) {};
\node[sel, bx={52}{21}] (ma22) at (1506,547) {};

\begin{pgfonlayer}{mid}
\coordinate (prb) at (766,547);
\coordinate (prc) at (797,633);
\draw[cn=puC] (rq7) -- (pr13);
\draw[cn=grC] (pr2.west) -- (pr1.east);
\draw[ln=grC] (pr6.north) |- (pr2.west);
\draw[ln=grC] (pr3) -- (pr7);
\draw[cn=grC] (pr8) -- (pr4);
\draw[cn=grC] (pr8) -- (pr9);
\draw[cn=grC] (pr5) -- (pr10);
\draw[bus=grC] (pr10.east) -| ([xshift=-12pt]pr8.south);
\draw[bus=grC] (pr6.south) -- (pr6.south |- pr10.east);
\draw[bus=grC] (pr7.south) -- (pr7.south |- pr10.east);
\draw[cn=grC] (pr10.south) |- (pr11.west);
\draw[cn=grC] ([xshift=-15pt]pr8.south) -- ([xshift=-15pt]pr8.south |- pr24.north);
\draw[cn=grC] ([yshift=4pt]pr13.east) -- (pr14.west);
\draw[cn=grC] ([yshift=2pt]pr15.west) -- ([yshift=2pt]pr14.east);
\draw[cn=grC] ([yshift=-2pt]pr15.west) -- ([yshift=-2pt]pr14.east);
\draw[cn=grC] ([yshift=2pt]pr12.east) -- ([yshift=2pt]pr13.west);
\draw[cn=grC] ([yshift=-2pt]pr12.east) -- ([yshift=-2pt]pr13.west);
\draw[cn=grC] ([xshift=15pt]pr14.south) |- (pr18.west);
\draw[cn=grC] ([xshift=15pt]pr14.south) |- (pr21.west);
\draw[bt=grC] (pr18.east) -- (ma8.west);
\draw[cn=grC] (pr21.east) -| (1015,597) -| (pr31.north);
\draw[cn=grC] (pr17) -- (pr16);
\draw[cn=grC] (pr20) -- (pr19);
\draw[ln=grC] (pr17) -- (pr20);
\draw[cn=grC] (pr23.north) |- (pr22.west);
\draw[cn=grC] (pr24.north) |- (pr22.east);
\draw[cn=grC] (pr23) -- (pr24);
\draw[cn=grC] ([xshift=-6pt]pr25.north) -- ([xshift=-6pt]pr23.south);
\draw[cn=grC] ([xshift=6pt]pr25.north) -- ([xshift=6pt]pr23.south);
\draw[cn=grC] ([xshift=-6pt]pr26.north) -- ([xshift=-6pt]pr24.south);
\draw[cn=grC] ([xshift=6pt]pr26.north) -- ([xshift=6pt]pr24.south);
\draw[cn=grC] ([yshift=-4pt]pr13.east) -- ++(28,0) |- (pr23.west);
\draw[bus=grC] (pr13.south) -- (prb);
\draw[bus=grC] (prb -| pr27.north) -- (prb -| pr30.north);
\foreach \i in {27,...,30}
  \draw[bt=grC] (prb -| pr\i.north) -- (pr\i.north);
\draw[bus=grC] (pr30.south) -- (prc);
\draw[bus=grC] (prc -| pr34.north) -- (prc -| pr36.north);
\foreach \i in {34,35,36}
  \draw[bt=grC] (prc -| pr\i.north) -- (pr\i.north);
\draw[bt=grC] (pr36) -- (pr38);
\draw[cn=grC] (pr30.east) -- (pr31.west);
\draw[cn=grC] (pr31.east) -- (pr32.west);
\draw[cn=grC] (pr31.east) -- ++(6,0) |- (pr33.west);
\draw[cn=grC] (pr36) -- (pr37);
\draw[cn=grC] (pr38) -- (pr39);
\draw[cn=grC] (pr39.east) -- ++(8,0) |- (pr40.west);
\draw[cn=grC] (pr39.east) -- ++(8,0) |- (pr41.west);
\draw[cn=grC] (pr42) -- (pr43);
\draw[ln=grC] (pr43.east) -- ++(27,0) coordinate (prd);
\draw[cn=grC] (prd) |- (pr39.west);
\draw[cn=grC] (prd) |- (pr44.west);
\draw[cn=grC] (prd) |- (pr45.west);
\draw[bus=grC] (pr44.east) -- (pr44.east -| pr48.north);
\foreach \i in {46,47,48}
  \draw[bt=grC] (pr44.east -| pr\i.north) -- (pr\i.north);
\draw[cn=grC] ([xshift=-8pt]pr13.north) |- (634,462) |- (pr42.west);
\draw[cn=grC] (pr28.south) -- ++(0,16) -| (642,507) -| ([xshift=-11pt]pr13.south);
\draw[cn=grC] (ma9) -- (ma8);
\draw[cn=grC] (ma10) -- (ma9);
\draw[cn=grC] (ma1) -- (ma2);
\draw[cn=grC] (ma3) -- (ma1);
\draw[cn=grC] (ma9) -- (ma3);
\draw[cn=grC] ([xshift=-16pt]ma9.south) -- ([xshift=-16pt]ma9.south |- ma12.north);
\draw[cn=grC] (ma12.east) -| (ma11.south);
\draw[cn=grC] (ma11.north) -- (ma11.north |- ma9.south);
\draw[cn=grC] (ma4) -- (ma5);
\draw[cn=grC] (ma7.west) -| (ma10.north);
\draw[cn=grC] (ma6.east) -| (ma7.north);
\draw[cn=grC] ([xshift=10pt]ma7.north) -- ([xshift=10pt]ma7.north |- ma4.south);
\draw[cn=grC] (ma14) -- (ma13);
\draw[cn=grC] (ma15.west) -| (ma13.south);
\draw[bus=grC] (ma4.south) -- (ma4.south |- ma16.east);
\foreach \i in {14,15,16}
  \draw[bt=grC] (ma4.south |- ma\i.east) -- (ma\i.east);
\draw[bt=grC] (ma5.south) |- (ma17.west);
\draw[bt=grC] (ma5.south) |- (ma19.west);
\draw[cn=grC] (ma17) -- (ma18);
\draw[cn=grC] (ma19) -- (ma20);
\draw[cn=grC] ([xshift=-20pt]ma20.south) |- (ma21.west);
\draw[cn=grC] ([xshift=-20pt]ma20.south) |- (ma22.west);
\end{pgfonlayer}

% communication right and kinematics
\uofpanel{tcr}{1030}{598}{1263}{768}{bl}{Communication Right}
\node[sel, bx={56}{17}] (cr1) at (1075,632) {};
\node[ent, bx={55}{17}] (cr2) at (1075,663) {};
\node[ent, bx={57}{17}] (cr3) at (1148,663) {};
\node[ent, bx={56}{17}] (cr4) at (1225,663) {};
\node[sel, bx={58}{15}] (cr5) at (1076,714) {};
\node[ent, bx={50}{12}] (cr6) at (1165,714) {};
\node[ent, bx={50}{12}] (cr7) at (1165,746) {};
\uofpanel{tkn}{1268}{598}{1537}{768}{gy}{\textbf{Kinematics}}
\node[ent, line width=0.6pt, bx={68}{11}] (kn1) at (1331,622) {};
\node[ent, line width=0.6pt, bx={72}{11}] (kn2) at (1431,622) {};
\node[ent, line width=0.6pt, bx={68}{10}] (kn3) at (1331,647) {};
\node[ent, line width=0.6pt, bx={70}{10}] (kn4) at (1432,647) {};
\node[pill, line width=0.6pt, bx={33}{7}] (kn5) at (1503,611) {};
\node[pill, draw=grC, line width=0.6pt, bx={33}{10}] (kn6) at (1503,625) {};
\node[pill, bx={35}{17}] (kn7) at (1504,646) {};
\node[sel, line width=0.8pt, bx={58}{17}] (kn8) at (1306,683) {};
\node[ent, line width=0.6pt, bx={53}{13}] (kn9) at (1378,684) {};
\node[pill, line width=0.6pt, bx={67}{17}] (kn10) at (1378,712) {};
\node[ent, line width=0.6pt, bx={35}{10}] (kn11) at (1465,695) {};
\node[ent, line width=0.6pt, bx={35}{10}] (kn12) at (1465,717) {};
\node[pill, bx={30}{14}] (kn13) at (1515,695) {};
\node[sel, line width=0.8pt, bx={58}{16}] (kn14) at (1306,735) {};
\node[ent, line width=0.6pt, bx={53}{13}] (kn15) at (1378,735) {};
\node[pill, bx={27}{14}] (kn16) at (1378,755) {};

\begin{pgfonlayer}{mid}
\draw[cn=blC] (cr2) -- (cr1);
\draw[cn=blC] (cr2) -- (cr3);
\draw[cn=blC] ([yshift=2pt]cr4.west) -- ([yshift=2pt]cr3.east);
\draw[cn=blC] ([yshift=-2pt]cr4.west) -- ([yshift=-2pt]cr3.east);
\draw[cn=blC] (cr3.south) -- ++(0,16) -| (cr5.north);
\draw[cn=blC] ([xshift=17pt]cr3.south) -- ([xshift=17pt]cr3.south |- cr6.north);
\draw[bt=blC] (cr6) -- (cr7);
\draw[cn=gyC] ([xshift=-15pt]kn1.south) -- ([xshift=-15pt]kn3.north);
\draw[cn=gyC] ([xshift=15pt]kn1.south) -- ([xshift=15pt]kn3.north);
\draw[cn=gyC] ([xshift=-15pt]kn2.south) -- ([xshift=-15pt]kn4.north);
\draw[cn=gyC] ([xshift=15pt]kn2.south) -- ([xshift=15pt]kn4.north);
\draw[cn=gyC] (kn4) -- (kn3);
\draw[cn=gyC] (kn2.east) -- (kn5.west);
\draw[cn=gyC] (kn2.east) -- (kn6.west);
\draw[cn=gyC] (kn4) -- (kn7);
\draw[cn=gyC] ([xshift=-20pt]kn4.south) |- (kn9.east);
\draw[cn=gyC] ([xshift=-2pt]kn4.south) |- (kn15.east);
\draw[cn=gyC] (kn9) -- (kn8);
\draw[cn=gyC] (kn9) -- (kn10);
\draw[cn=gyC] (kn10) -- (kn15);
\draw[cn=gyC] (kn15) -- (kn14);
\draw[cn=gyC] (kn15) -- (kn16);
\draw[cn=gyC] (kn11.north |- kn4.south) -- (kn11.north);
\draw[cn=gyC] ([xshift=-6pt]kn12.north) -- ([xshift=-6pt]kn11.south);
\draw[cn=gyC] ([xshift=6pt]kn12.north) -- ([xshift=6pt]kn11.south);
\draw[cn=gyC] (kn11) -- (kn13);
\end{pgfonlayer}

% data change
\uofpanel{tdc}{40}{637}{226}{833}{cy}{Data Change}
\node[ent, bx={35}{10}] (dc1) at (68,673) {};
\node[sel, bx={50}{18}] (dc2) at (163,674) {};
\node[ent, bx={35}{20}] (dc3) at (68,720) {};
\node[ent, bx={35}{16}] (dc4) at (117,720) {};
\node[ent, bx={35}{13}] (dc5) at (197,734) {};
\node[ent, bx={23}{10}] (dc6) at (92,752) {};
\node[ent, bx={29}{15}] (dc7) at (92,772) {};
\node[ent, bx={23}{11}] (dc8) at (92,793) {};
\node[ent, bx={23}{13}] (dc9) at (92,812) {};
\node[sel, bx={42}{18}] (dc10) at (149,774) {};
\node[sel, bx={64}{15}] (dc11) at (185,811) {};

% person, organization and address
\uofpanel{tpo}{230}{637}{620}{727}{bl}{Person, Organization and Address}
\node[ent, bx={40}{17}] (po1) at (381,652) {};
\node[ent, bx={52}{17}] (po2) at (439,652) {};
\node[ent, bx={38}{13}] (po3) at (382,678) {};
\node[ent, bx={37}{20}] (po4) at (438,678) {};
\node[ent, bx={29}{12}] (po5) at (484,679) {};
\node[sel, bx={50}{22}] (po6) at (261,709) {};
\node[ent, bx={52}{18}] (po7) at (337,709) {};
\node[sel, bx={56}{22}] (po8) at (406,709) {};
\node[ent, bx={42}{16}] (po9) at (474,710) {};
\node[ent, bx={27}{14}] (po10) at (527,710) {};

% date and time
\uofpanel{tdt}{230}{733}{620}{893}{bl}{Date \& Time}
\node[ent, bx={34}{18}] (dt1) at (328,751) {};
\node[ent, bx={34}{18}] (dt2) at (407,751) {};
\node[ent, bx={42}{12}] (dt3) at (461,751) {};
\node[ent, bx={35}{15}] (dt4) at (518,751) {};
\node[sel, bx={38}{19}] (dt5) at (580,752) {};
\node[ent, bx={36}{12}] (dt6) at (254,771) {};
\node[ent, bx={36}{10}] (dt7) at (254,799) {};
\node[ent, bx={35}{14}] (dt8) at (308,800) {};
\node[sel, bx={56}{14}] (dt9) at (371,800) {};
\node[ent, bx={35}{12}] (dt10) at (293,834) {};
\node[ent, bx={35}{11}] (dt11) at (293,862) {};
\node[ent, bx={36}{10}] (dt12) at (354,852) {};
\node[sel, bx={38}{18}] (dt13) at (357,876) {};
\node[sel, bx={39}{15}] (dt14) at (468,784) {};
\node[sel, bx={38}{20}] (dt15) at (532,783) {};
\node[ent, bx={34}{10}] (dt16) at (532,812) {};
\node[ent, bx={30}{15}] (dt17) at (597,811) {};
\node[ent, bx={34}{12}] (dt18) at (503,836) {};
\node[ent, bx={35}{15}] (dt19) at (562,840) {};
\node[ent, bx={36}{16}] (dt20) at (502,860) {};
\node[sel, bx={56}{12}] (dt21) at (564,864) {};

% approval, contract and project
\uofpanel{tap}{230}{900}{620}{1038}{gr}{Approval, Contract \& Project}
\node[ent, bx={38}{19}] (ap1) at (353,917) {};
\node[sel, bx={38}{20}] (ap2) at (257,942) {};
\node[ent, bx={40}{13}] (ap3) at (306,941) {};
\node[ent, bx={38}{13}] (ap4) at (353,941) {};
\node[ent, bx={38}{13}] (ap5) at (407,941) {};
\node[sel, bx={40}{21}] (ap6) at (479,942) {};
\node[ent, bx={38}{13}] (ap7) at (532,941) {};
\node[ent, bx={40}{19}] (ap8) at (587,917) {};
\node[ent, bx={40}{13}] (ap9) at (587,941) {};
\node[ent, bx={38}{18}] (ap10) at (353,971) {};
\node[sel, bx={38}{20}] (ap11) at (257,995) {};
\node[ent, bx={40}{13}] (ap12) at (306,995) {};
\node[ent, bx={38}{13}] (ap13) at (353,995) {};
\node[ent, bx={50}{13}] (ap14) at (411,995) {};
\node[sel, bx={40}{21}] (ap15) at (479,996) {};
\node[ent, bx={38}{13}] (ap16) at (532,995) {};
\node[ent, bx={40}{13}] (ap17) at (587,995) {};
\node[sel, bx={36}{18}] (ap18) at (354,1019) {};

\begin{pgfonlayer}{mid}
\draw[cn=cyC] (dc1) -- (dc2);
\draw[cn=cyC] (dc1) -- (dc3);
\draw[cn=cyC] ([yshift=2pt]dc4.west) -- ([yshift=2pt]dc3.east);
\draw[cn=cyC] ([yshift=-2pt]dc4.west) -- ([yshift=-2pt]dc3.east);
\draw[bus=cyC] (dc3.south) -- (dc3.south |- dc9.west);
\foreach \i in {6,...,9}
  \draw[bt=cyC] (dc3.south |- dc\i.west) -- (dc\i.west);
\foreach \i in {6,...,9}
  \draw[cn=cyC] (dc\i.east) -- (dc10.west);
\draw[cn=cyC] (dc5.west) -| (dc10.north);
\draw[cn=cyC] (dc10.east) -| (dc11.north);
\draw[cn=blC] ([xshift=-6pt]po1.south) -- ([xshift=-6pt]po3.north);
\draw[cn=blC] ([xshift=6pt]po1.south) -- ([xshift=6pt]po3.north);
\draw[cn=blC] ([xshift=-6pt]po2.south) -- ([xshift=-6pt]po4.north);
\draw[cn=blC] ([xshift=6pt]po2.south) -- ([xshift=6pt]po4.north);
\draw[cn=blC] (po4) -- (po3);
\draw[cn=blC] (po4) -- (po5);
\draw[cn=blC] (po3.south) -- (po3.south |- po8.north);
\draw[cn=blC] ([xshift=-8pt]po4.south) -- ([xshift=-8pt]po4.south |- po8.north);
\draw[cn=blC] (po7) -- (po6);
\draw[cn=blC] (po8) -- (po7);
\draw[cn=blC] (po9) -- (po8);
\draw[cn=blC] (po9) -- (po10);
\draw[cn=blC] (po6.south) -- ++(0,10) -| (dt1.north);
\draw[cn=blC] (po8.south) -- (po8.south |- ap5.north);
\draw[cn=blC] (dt1) -- (dt2);
\draw[cn=blC] (dt2) -- (dt3);
\draw[cn=blC] (dt4) -- (dt3);
\draw[cn=blC] (dt4) -- (dt5);
\draw[cn=blC] ([xshift=-5pt]dt6.south) -- ([xshift=-5pt]dt7.north);
\draw[cn=blC] ([xshift=5pt]dt6.south) -- ([xshift=5pt]dt7.north);
\draw[cn=blC] (dt7) -- (dt8);
\draw[cn=blC] (dt8) -- (dt9);
\draw[bus=blC] ([xshift=3pt]dt7.south) -- ([xshift=3pt]dt7.south |- dt11.west);
\draw[bt=blC] ([xshift=3pt]dt7.south |- dt10.west) -- (dt10.west);
\draw[bt=blC] ([xshift=3pt]dt7.south |- dt11.west) -- (dt11.west);
\draw[cn=blC] (dt11.east) -- ++(12,0) |- (dt12.west);
\draw[cn=blC] (dt11.east) -- ++(12,0) |- (dt13.west);
\draw[cn=blC] ([xshift=-20pt]dt3.south) |- (dt18.west);
\draw[cn=blC] (dt4.south) -- (dt14.north east);
\draw[cn=blC] (dt4.south) -- (dt15.north);
\draw[cn=blC] (dt15) -- (dt16);
\draw[cn=blC] (dt16.south) |- (dt18.east);
\draw[cn=blC] (dt19) -- (dt18);
\draw[cn=blC] (dt20) -- (dt18);
\draw[cn=blC] (dt19) -- (dt21);
\draw[cn=blC] (dt17.north) |- (dt15.east);
\draw[cn=blC] (dt17.south) |- (dt21.east);
\draw[cn=blC] (dt14.south) |- (dt20.west);
\draw[cn=grC] ([xshift=-6pt]ap1.south) -- ([xshift=-6pt]ap4.north);
\draw[cn=grC] ([xshift=6pt]ap1.south) -- ([xshift=6pt]ap4.north);
\draw[cn=grC] (ap3) -- (ap2);
\draw[cn=grC] (ap4) -- (ap3);
\draw[cn=grC] (ap5) -- (ap4);
\draw[cn=grC] (ap7) -- (ap6);
\draw[cn=grC] (ap9) -- (ap7);
\draw[cn=grC] ([xshift=-6pt]ap8.south) -- ([xshift=-6pt]ap9.north);
\draw[cn=grC] ([xshift=6pt]ap8.south) -- ([xshift=6pt]ap9.north);
\draw[cn=grC] ([xshift=-6pt]ap10.south) -- ([xshift=-6pt]ap13.north);
\draw[cn=grC] ([xshift=6pt]ap10.south) -- ([xshift=6pt]ap13.north);
\draw[cn=grC] (ap12) -- (ap11);
\draw[cn=grC] (ap13) -- (ap12);
\draw[cn=grC] (ap14) -- (ap13);
\draw[cn=grC] (ap16) -- (ap15);
\draw[cn=grC] (ap17) -- (ap16);
\draw[bt=grC] (ap13) -- (ap18);
\end{pgfonlayer}

% installation
\uofpanel{tin}{625}{755}{943}{1017}{cy}{Installation}
\foreach \i/\x/\w in {1/659/32,2/699/28,3/732/30,4/776/38}
  \node[ent, bx={\w}{11}] (in\i) at (\x,778) {};
\node[ent, bx={44}{11}] (in5) at (660,803) {};
\node[ent, bx={35}{11}] (in6) at (715,803) {};
\node[ent, bx={47}{17}] (in7) at (658,827) {};
\node[ent, bx={36}{13}] (in8) at (715,827) {};
\node[ent, bx={42}{17}] (in9) at (774,827) {};
\node[sel, bx={55}{20}] (in10) at (837,827) {};
\node[ent, bx={36}{12}] (in11) at (715,851) {};
\node[sel, bx={56}{17}] (in12) at (790,857) {};
\node[ent, bx={47}{17}] (in13) at (658,880) {};
\node[ent, bx={36}{17}] (in14) at (715,880) {};
\node[ent, bx={46}{16}] (in15) at (790,880) {};
\node[ent, bx={38}{18}] (in16) at (886,881) {};
\node[sel, bx={56}{16}] (in17) at (790,905) {};
\node[ent, bx={38}{15}] (in18) at (886,906) {};
\node[ent, bx={49}{20}] (in19) at (657,935) {};
\node[ent, bx={36}{17}] (in20) at (715,935) {};
\node[ent, bx={39}{22}] (in21) at (767,939) {};
\node[sel, bx={33}{15}] (in22) at (813,939) {};
\node[ent, bx={27}{11}] (in23) at (851,932) {};
\node[ent, bx={28}{11}] (in24) at (884,932) {};
\node[ent, bx={30}{11}] (in25) at (917,932) {};
\node[sel, bx={40}{13}] (in26) at (917,957) {};
\node[ent, bx={49}{20}] (in27) at (657,963) {};
\node[ent, bx={36}{25}] (in28) at (715,965) {};
\node[ent, bx={23}{13}] (in29) at (758,971) {};
\node[sel, bx={32}{13}] (in30) at (801,971) {};
\node[ent, bx={35}{12}] (in31) at (704,994) {};
\node[ent, bx={33}{12}] (in32) at (752,994) {};
\node[pill, bx={43}{13}] (in33) at (808,1007) {};

% pdm documents and document structure
\uofpanel{tpd}{948}{772}{1177}{940}{pu}{PDM Documents}
\node[sel, bx={62}{15}] (pd1) at (986,799) {};
\node[pill, fill=orange!22, draw=orange!70!black, line width=0.5pt, bx={38}{11}] (pd2) at (1041,808) {};
\node[pill, bx={25}{10}] (pd3) at (1079,808) {};
\node[ent, bx={32}{22}] (pd4) at (1079,829) {};
\node[ent, bx={31}{12}] (pd5) at (988,856) {};
\node[ent, bx={35}{11}] (pd6) at (1034,857) {};
\node[ent, bx={45}{13}] (pd7) at (1083,857) {};
\node[sel, bx={50}{20}] (pd8) at (1138,857) {};
\foreach \i/\y in {9/874,10/889,11/903,12/920}
  \node[ent, bx={31}{12}] (pd\i) at (1012,\y) {};
\uofpanel{tds}{1182}{772}{1380}{940}{pu}{Document Structure}
\node[ent, bx={52}{15}] (ds1) at (1254,801) {};
\node[ent, bx={31}{15}] (ds2) at (1207,814) {};
\node[sel, bx={43}{16}] (ds3) at (1252,830) {};
\node[pill, bx={44}{10}] (ds4) at (1350,830) {};
\node[ent, bx={47}{17}] (ds5) at (1302,847) {};
\node[ent, bx={47}{15}] (ds6) at (1302,866) {};
\node[ent, bx={35}{13}] (ds7) at (1350,866) {};
\node[pill, line width=0.5pt, bx={35}{12}] (ds8) at (1237,876) {};
\node[ent, bx={32}{15}] (ds9) at (1274,889) {};
\node[ent, bx={42}{15}] (ds10) at (1281,917) {};
\node[ent, bx={45}{16}] (ds11) at (1336,905) {};
\node[ent, bx={45}{15}] (ds12) at (1336,927) {};

\begin{pgfonlayer}{mid}
\coordinate (inb) at (715,788);
\coordinate (inv) at (745,880);
\draw[bus=cyC] (in1.south) |- (inb) -| (in4.south);
\draw[bus=cyC] (in2.south) -- (in2.south |- inb);
\draw[bus=cyC] (in3.south) -- (in3.south |- inb);
\draw[bt=cyC] (inb) -- (in6.north);
\draw[cn=cyC] ([yshift=2pt]in5.east) -- ([yshift=2pt]in6.west);
\draw[cn=cyC] ([yshift=-2pt]in5.east) -- ([yshift=-2pt]in6.west);
\draw[cn=cyC] (in6) -- (in8);
\draw[cn=cyC] (in8) -- (in11);
\draw[cn=cyC] (in11) -- (in14);
\draw[cn=cyC] (in14) -- (in20);
\draw[cn=cyC] (in20) -- (in28);
\draw[cn=cyC] (in7) -- (in8);
\draw[cn=cyC] (in9) -- (in8);
\draw[cn=cyC] (in9) -- (in10);
\draw[cn=cyC] (in13) -- (in14);
\draw[ln=cyC] (in12.west) -| (inv);
\draw[ln=cyC] (in17.west) -| (inv);
\draw[cn=cyC] (inv) -- (in14.east);
\draw[cn=cyC] (in12) -- (in15);
\draw[cn=cyC] (in15) -- (in17);
\draw[cn=cyC] (in18) -- (in17);
\draw[cn=cyC] ([xshift=-6pt]in16.south) -- ([xshift=-6pt]in18.north);
\draw[cn=cyC] ([xshift=6pt]in16.south) -- ([xshift=6pt]in18.north);
\path (in18.south) ++(0,6) coordinate (inc);
\draw[bus=cyC] (in18.south) -- (inc);
\draw[bus=cyC] (inc -| in23.north) -- (inc -| in25.north);
\foreach \i in {23,24,25}
  \draw[bt=cyC] (inc -| in\i.north) -- (in\i.north);
\draw[cn=cyC] (in25) -- (in26);
\draw[cn=cyC] (in19) -- (in20);
\draw[cn=cyC] (in21) -- (in20);
\draw[cn=cyC] (in21) -- (in22);
\draw[cn=cyC] (in27) -- (in28);
\draw[cn=cyC] (in28) -- (in29);
\draw[cn=cyC] (in29) -- (in30);
\draw[cn=cyC] (in31.north) -- (in31.north |- in28.south);
\draw[cn=cyC] ([xshift=-12pt]in32.north) |- (in28.east);
\draw[cn=cyC] (in33.west) -| (in31.south);
\draw[cn=cyC] (in12.east) -- (pd5.west);
\draw[cn=cyC] (in32.east) -| (pd12.south);
\draw[cn=puC] (pd1) -- (pd5);
\draw[cn=puC] (pd1.east) -| (pd3.north);
\draw[cn=puC] (pd2) -- (pd3);
\draw[cn=puC] (pd4) -- (pd3);
\draw[cn=puC] (pd4.west) -| ([xshift=10pt]pd5.north);
\draw[cn=puC] (pd5) -- (pd6);
\draw[bt=puC] (pd6) -- (pd7);
\draw[cn=puC] (pd7) -- (pd8);
\draw[bus=puC] (pd5.south) -- (pd5.south |- pd12.west);
\foreach \i in {9,...,12}
  \draw[bt=puC] (pd5.south |- pd\i.west) -- (pd\i.west);
\draw[bt=puC] (pd4.east) -- (ds3.west);
\draw[bt=puC] (ds2.south |- ds3.west) -- (ds2.south);
\draw[cn=puC] (pd9.east) -- (ds8.west);
\draw[cn=puC] ([xshift=-5pt]ds1.south) -- ([xshift=-5pt]ds3.north);
\draw[cn=puC] ([xshift=5pt]ds1.south) -- ([xshift=5pt]ds3.north);
\draw[cn=puC] (ds3) -- (ds4);
\draw[bt=puC] (ds3.south) |- (ds5.west);
\draw[bt=puC] (ds3.south) |- (ds6.west);
\draw[cn=puC] (ds6) -- (ds7);
\draw[cn=puC] ([xshift=-12pt]ds3.south) |- (ds10.west);
\draw[cn=puC] ([xshift=-5pt]ds9.south) -- ([xshift=-5pt]ds10.north);
\draw[cn=puC] ([xshift=5pt]ds9.south) -- ([xshift=5pt]ds10.north);
\draw[bus=puC] (ds10.east) -- ++(5,0) coordinate (dsb);
\draw[bt=puC] (dsb) |- (ds11.west);
\draw[bt=puC] (dsb) |- (ds12.west);
\end{pgfonlayer}

\begin{scope}
\clip (0,0) rectangle (1538,1040);
\shade[ball color=blue!40!cyan!75] (1045,1108) circle (80);
\end{scope}
\end{tikzpicture}
\end{document}
